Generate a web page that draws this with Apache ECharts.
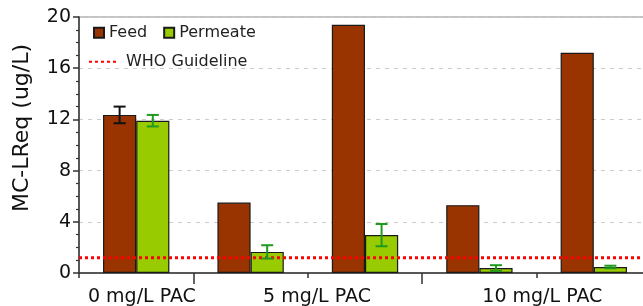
<!DOCTYPE html>
<html>
<head>
  <title>MC-LReq Feed vs Permeate</title>
  <script src="https://cdn.jsdelivr.net/npm/echarts@6/dist/echarts.min.js"></script>
  <style>
    html, body { margin: 0; padding: 0; background: #fff; }
    #chart { width: 643px; height: 306px; }
  </style>
</head>
<body>
  <div id="chart"></div>

  <script>
    // bar groups (5 groups, labels span them)
    const groups = ['g1', 'g2', 'g3', 'g4', 'g5'];
    const feed = [12.35, 5.5, 19.4, 5.3, 17.2];
    const feedErr = [0.65, 0, 0, 0, 0];
    const permeate = [11.9, 1.65, 2.96, 0.39, 0.47];
    const permeateErr = [0.45, 0.52, 0.87, 0.22, 0.1];
    const whoGuideline = 1.2;

    // dose labels and where they sit along the groups (in group units)
    const doseLabels = ['0 mg/L PAC', '5 mg/L PAC', '10 mg/L PAC'];
    const doseLabelPos = [0.55, 2.08, 4.05];
    const doseDividers = [1, 3];

    const yTicks = [0, 4, 8, 12, 16, 20];

    const font = 'DejaVu Sans';
    const barShare = 0.29;

    function errData(vals, errs) {
      const out = [];
      vals.forEach((v, i) => {
        if (errs[i] > 0) out.push([i, v - errs[i], v + errs[i]]);
      });
      return out;
    }

    function errorBars(sign, color) {
      return function (params, api) {
        const cat = api.value(0);
        const hi = api.coord([cat, api.value(2)]);
        const lo = api.coord([cat, api.value(1)]);
        const band = api.size([1, 0])[0];
        const x = hi[0] + sign * band * barShare / 2;
        const cap = 6;
        const style = { stroke: color, lineWidth: 2 };
        return {
          type: 'group',
          children: [
            { type: 'line', shape: { x1: x, y1: hi[1], x2: x, y2: lo[1] }, style: style },
            { type: 'line', shape: { x1: x - cap, y1: hi[1], x2: x + cap, y2: hi[1] }, style: style },
            { type: 'line', shape: { x1: x - cap, y1: lo[1], x2: x + cap, y2: lo[1] }, style: style }
          ]
        };
      };
    }

    function doseLabel(v) {
      const i = doseLabelPos.findIndex(p => Math.abs(p - v) < 1e-6);
      return i >= 0 ? doseLabels[i] : '';
    }

    const chart = echarts.init(document.getElementById('chart'));

    const option = {
      animation: false,
      textStyle: { fontFamily: font },
      grid: {
        left: 79, top: 17, bottom: 33, right: -8,
        outerBoundsMode: 'none',
        containLabel: false,
        show: true, borderColor: '#c4c4c4', borderWidth: 2
      },
      legend: [
        {
          data: ['Feed', 'Permeate'],
          left: 93, top: 17, padding: 0,
          itemWidth: 10, itemHeight: 10, itemGap: 16,
          icon: 'rect',
          textStyle: { fontFamily: font, fontSize: 16, color: '#222', lineHeight: 16 }
        },
        {
          data: ['WHO Guideline'],
          left: 88, top: 46, padding: 0,
          itemWidth: 29, itemHeight: 10,
          itemStyle: { opacity: 0 },
          textStyle: { fontFamily: font, fontSize: 16, color: '#222', lineHeight: 16, padding: [0, 0, 0, 3] }
        }
      ],
      xAxis: [
        {
          type: 'category',
          data: groups,
          position: 'bottom',
          axisLine: { lineStyle: { color: '#333', width: 1.5 } },
          axisTick: { show: true, alignWithLabel: false, length: 5, lineStyle: { color: '#333', width: 1.5 } },
          axisLabel: { show: false },
          splitLine: { show: false }
        },
        {
          type: 'value',
          min: 0, max: 5,
          position: 'bottom',
          axisLine: { show: false },
          axisTick: { show: true, customValues: doseDividers, length: 11, lineStyle: { color: '#333', width: 1.5 } },
          axisLabel: {
            show: true,
            customValues: doseLabelPos,
            formatter: doseLabel,
            hideOverlap: false,
            showMinLabel: true,
            showMaxLabel: true,
            fontFamily: font, fontSize: 19, color: '#111', margin: 5
          },
          splitLine: { show: false }
        }
      ],
      yAxis: {
        type: 'value',
        min: yTicks[0], max: yTicks[yTicks.length - 1], interval: 4,
        name: 'MC-LReq (ug/L)',
        nameLocation: 'middle',
        nameGap: 35,
        nameMoveOverlap: false,
        nameTextStyle: { fontFamily: font, fontSize: 22, color: '#111', padding: [0, 0, 0, 34] },
        axisLine: { show: true, lineStyle: { color: '#333', width: 1.5 } },
        axisTick: { show: true, length: 6, lineStyle: { color: '#333', width: 1.5 } },
        minorTick: { show: true, splitNumber: 4, length: 3, lineStyle: { color: '#333', width: 1.2 } },
        axisLabel: { fontFamily: font, fontSize: 19, color: '#111', margin: 8 },
        splitLine: { show: true, lineStyle: { color: '#cccccc', type: [4, 5], width: 1 } }
      },
      series: [
        {
          name: 'Feed',
          type: 'bar',
          data: feed,
          barWidth: (barShare * 100) + '%',
          barGap: '0%',
          itemStyle: { color: '#993300', borderColor: '#1a1a1a', borderWidth: 1.2 }
        },
        {
          name: 'Permeate',
          type: 'bar',
          data: permeate,
          barWidth: (barShare * 100) + '%',
          barGap: '0%',
          itemStyle: { color: '#99cc00', borderColor: '#1a1a1a', borderWidth: 1.2 }
        },
        {
          name: 'WHO Guideline',
          type: 'line',
          xAxisIndex: 1,
          data: [[0, whoGuideline], [5, whoGuideline]],
          symbol: 'none',
          z: 5,
          itemStyle: { color: '#ff0000' },
          lineStyle: { color: '#ff0000', width: 3, type: [3, 3] }
        },
        {
          name: 'feedErr',
          type: 'custom',
          data: errData(feed, feedErr),
          encode: { x: 0, y: [1, 2] },
          renderItem: errorBars(-1, '#111'),
          z: 10
        },
        {
          name: 'permeateErr',
          type: 'custom',
          data: errData(permeate, permeateErr),
          encode: { x: 0, y: [1, 2] },
          renderItem: errorBars(1, '#1f9a1f'),
          z: 10
        }
      ]
    };

    chart.setOption(option);
  </script>
</body>
</html>
